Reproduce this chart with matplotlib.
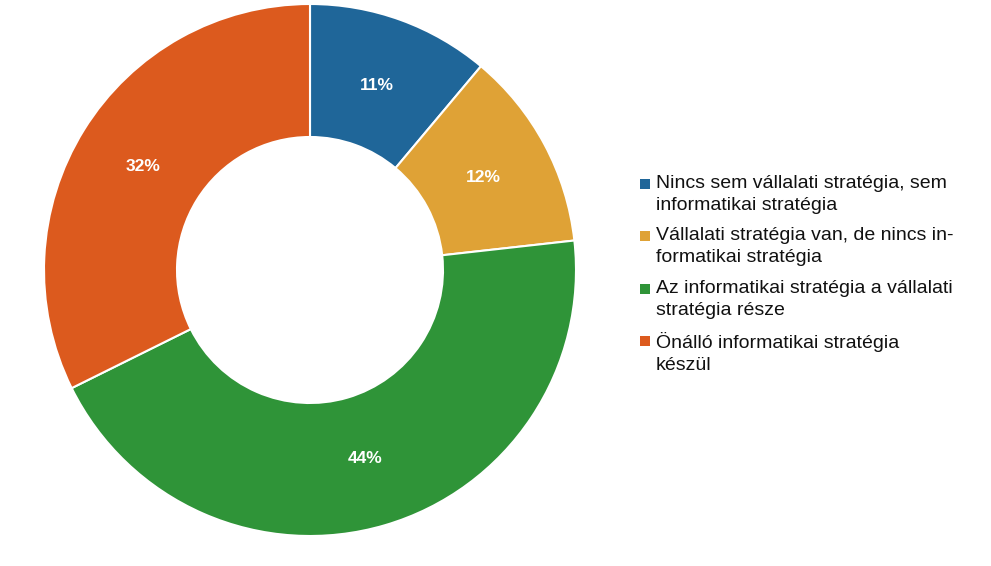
import matplotlib.pyplot as plt
from matplotlib.patches import Rectangle

plt.rcParams['font.family'] = ['Liberation Sans', 'DejaVu Sans']

labels = [
    "Nincs sem vállalati stratégia, sem\ninformatikai stratégia",
    "Vállalati stratégia van, de nincs in-\nformatikai stratégia",
    "Az informatikai stratégia a vállalati\nstratégia része",
    "Önálló informatikai stratégia\nkészül",
]
values = [11, 12, 44, 32]
colors = ["#1f6699", "#dfa236", "#2f9438", "#dc5a1e"]

W, H = 991, 566
fig = plt.figure(figsize=(W / 100, H / 100), dpi=100)
fig.patch.set_facecolor("white")

# donut axes: center (310, 270) px, outer radius ~266 px
cx, cy, r = 310, 270, 266
ax = fig.add_axes([(cx - r) / W, (H - cy - r) / H, 2 * r / W, 2 * r / H])
wedges, texts, autotexts = ax.pie(
    values, colors=colors, startangle=90, counterclock=False,
    radius=1.0, autopct=lambda p: f"{p:.0f}%", pctdistance=0.74,
    wedgeprops=dict(width=0.5, edgecolor="white", linewidth=1.5),
    textprops=dict(color="white", fontsize=12.5, fontweight="bold"),
)
for t, v in zip(autotexts, values):
    t.set_text(f"{v}%")
ax.set_xlim(-1, 1)
ax.set_ylim(-1, 1)
ax.set_aspect("equal")
ax.axis("off")

# legend, drawn by hand so the square lines up with the first text line
sq = 10
y0 = 184
for i, (lab, c) in enumerate(zip(labels, colors)):
    y = y0 + i * 52.3
    fig.patches.append(Rectangle((640 / W, (H - y - sq / 2) / H), sq / W, sq / H,
                                 transform=fig.transFigure, facecolor=c, edgecolor="none"))
    fig.text(656 / W, (H - y + 9) / H, lab, fontsize=14, color="#111111",
             va="top", ha="left", linespacing=1.38,
             transform=fig.transFigure)

fig.savefig("out.png", dpi=100)
